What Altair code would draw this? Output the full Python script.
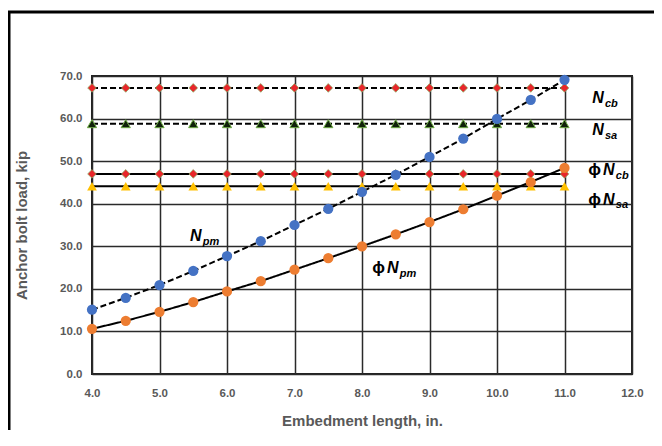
import altair as alt
import pandas as pd

# ---------------- data ----------------
x_vals = [4.0, 4.5, 5.0, 5.5, 6.0, 6.5, 7.0, 7.5, 8.0, 8.5, 9.0, 9.5, 10.0, 10.5, 11.0]
npm = [15.1, 17.9, 20.9, 24.2, 27.7, 31.2, 35.0, 38.8, 42.8, 46.8, 51.0, 55.3, 59.9, 64.4, 69.1]
phi_npm = [10.6, 12.5, 14.6, 16.9, 19.4, 21.8, 24.5, 27.2, 30.0, 32.8, 35.7, 38.7, 41.9, 45.1, 48.4]
ncb = [67.2] * 15
nsa = [58.8] * 15
phi_ncb = [47.0] * 15
phi_nsa = [44.1] * 15

x_ticks = [4, 5, 6, 7, 8, 9, 10, 11, 12]
y_ticks = [0, 10, 20, 30, 40, 50, 60, 70]

series = [
    ("Ncb", ncb, "dashed"),
    ("Nsa", nsa, "dashed"),
    ("phiNcb", phi_ncb, "solid"),
    ("phiNsa", phi_nsa, "solid"),
    ("Npm", npm, "dashed"),
    ("phiNpm", phi_npm, "solid"),
]
rows = []
for name, vals, dash in series:
    for x, v in zip(x_vals, vals):
        rows.append({"x": x, "y": v, "series": name, "dash": dash})
df = pd.DataFrame(rows)

# annotation labels (phi + italic N + subscript), in data coordinates
lab_phi_x = [11.35, 11.35, 8.15]
lab_phi_y = [47.9, 40.9, 24.9]
lab_n_x = [11.41, 11.41, 11.57, 11.57, 5.45, 8.37]
lab_n_y = [64.8, 57.3, 47.9, 40.9, 32.4, 24.9]
lab_sub_text = ["cb", "sa", "cb", "sa", "pm", "pm"]
lab_sub_x = [11.60, 11.60, 11.76, 11.76, 5.64, 8.56]
lab_sub_y = [63.5, 56.0, 46.6, 39.6, 31.1, 23.6]
lab_phi = pd.DataFrame({"t": ["ϕ"] * 3, "x": lab_phi_x, "y": lab_phi_y})
lab_n = pd.DataFrame({"t": ["N"] * 6, "x": lab_n_x, "y": lab_n_y})
lab_sub = pd.DataFrame({"t": lab_sub_text, "x": lab_sub_x, "y": lab_sub_y})

FONT = "Liberation Sans"
GREY = "#595959"

xs = alt.Scale(domain=[4, 12], nice=False, zero=False)
ys = alt.Scale(domain=[0, 70], nice=False)

base = alt.Chart(df).encode(
    x=alt.X("x:Q", scale=xs,
            axis=alt.Axis(values=x_ticks, format=".1f", title="Embedment length, in.")),
    y=alt.Y("y:Q", scale=ys,
            axis=alt.Axis(values=y_ticks, format=".1f", title="Anchor bolt load, kip")),
)

lines = base.mark_line(color="black", strokeWidth=2).encode(
    detail="series:N",
    strokeDash=alt.StrokeDash("dash:N",
                              scale=alt.Scale(domain=["dashed", "solid"], range=[[6, 3], [1, 0]]),
                              legend=None),
)

circles = base.transform_filter(
    alt.FieldOneOfPredicate(field="series", oneOf=["Npm", "phiNpm"])
).mark_circle(size=105, opacity=1).encode(
    color=alt.Color("series:N", scale=alt.Scale(domain=["Npm", "phiNpm"],
                                                range=["#4472C4", "#ED7D31"]), legend=None)
)

diamonds = base.transform_filter(
    alt.FieldOneOfPredicate(field="series", oneOf=["Ncb", "phiNcb"])
).mark_point(shape="diamond", filled=True, size=75, fill="#E8262A",
             stroke="#8FAE6A", strokeWidth=0.8, opacity=1)

tri_nsa = base.transform_filter(alt.datum.series == "Nsa").mark_point(
    shape="triangle-up", filled=True, size=85, fill="#10210A",
    stroke="#70AD47", strokeWidth=1, opacity=1)

tri_phinsa = base.transform_filter(alt.datum.series == "phiNsa").mark_point(
    shape="triangle-up", filled=True, size=95, fill="#FFC000", opacity=1)

phi_txt = alt.Chart(lab_phi).mark_text(
    align="left", baseline="middle", font=FONT, fontSize=17, fontWeight="bold",
    color="black"
).encode(x=alt.X("x:Q", scale=xs), y=alt.Y("y:Q", scale=ys), text="t:N")

n_txt = alt.Chart(lab_n).mark_text(
    align="left", baseline="middle", font=FONT, fontSize=16, fontWeight="bold",
    fontStyle="italic", color="black"
).encode(x=alt.X("x:Q", scale=xs), y=alt.Y("y:Q", scale=ys), text="t:N")

sub_txt = alt.Chart(lab_sub).mark_text(
    align="left", baseline="middle", font=FONT, fontSize=11, fontWeight="bold",
    fontStyle="italic", color="black"
).encode(x=alt.X("x:Q", scale=xs), y=alt.Y("y:Q", scale=ys), text="t:N")

frame = alt.Chart(alt.Data(values=[{}])).mark_rect(
    fillOpacity=0, stroke="black", strokeWidth=3
).encode(x=alt.value(-83), x2=alt.value(700), y=alt.value(-64), y2=alt.value(500))

chart = alt.layer(
    lines, diamonds, tri_nsa, tri_phinsa, circles, phi_txt, n_txt, sub_txt, frame
).properties(
    width=540, height=298,
    autosize=alt.AutoSizeParams(type="none"),
    padding={"left": 84, "top": 68, "right": 22, "bottom": 56},
).configure_view(
    stroke="#222222", strokeWidth=2
).configure_axis(
    grid=True, gridColor="#2a2a2a", gridWidth=1.5, gridOpacity=1,
    domain=False, ticks=False, labelFlush=False,
    labelFont=FONT, labelFontSize=11.5, labelFontWeight="bold", labelColor=GREY,
    titleFont=FONT, titleFontSize=15, titleFontWeight="bold", titleColor=GREY,
).configure_axisX(
    labelPadding=13, titlePadding=15
).configure_axisY(
    labelPadding=10, titlePadding=30
)

chart.save("out.html", embed_options={"renderer": "svg", "actions": False})
